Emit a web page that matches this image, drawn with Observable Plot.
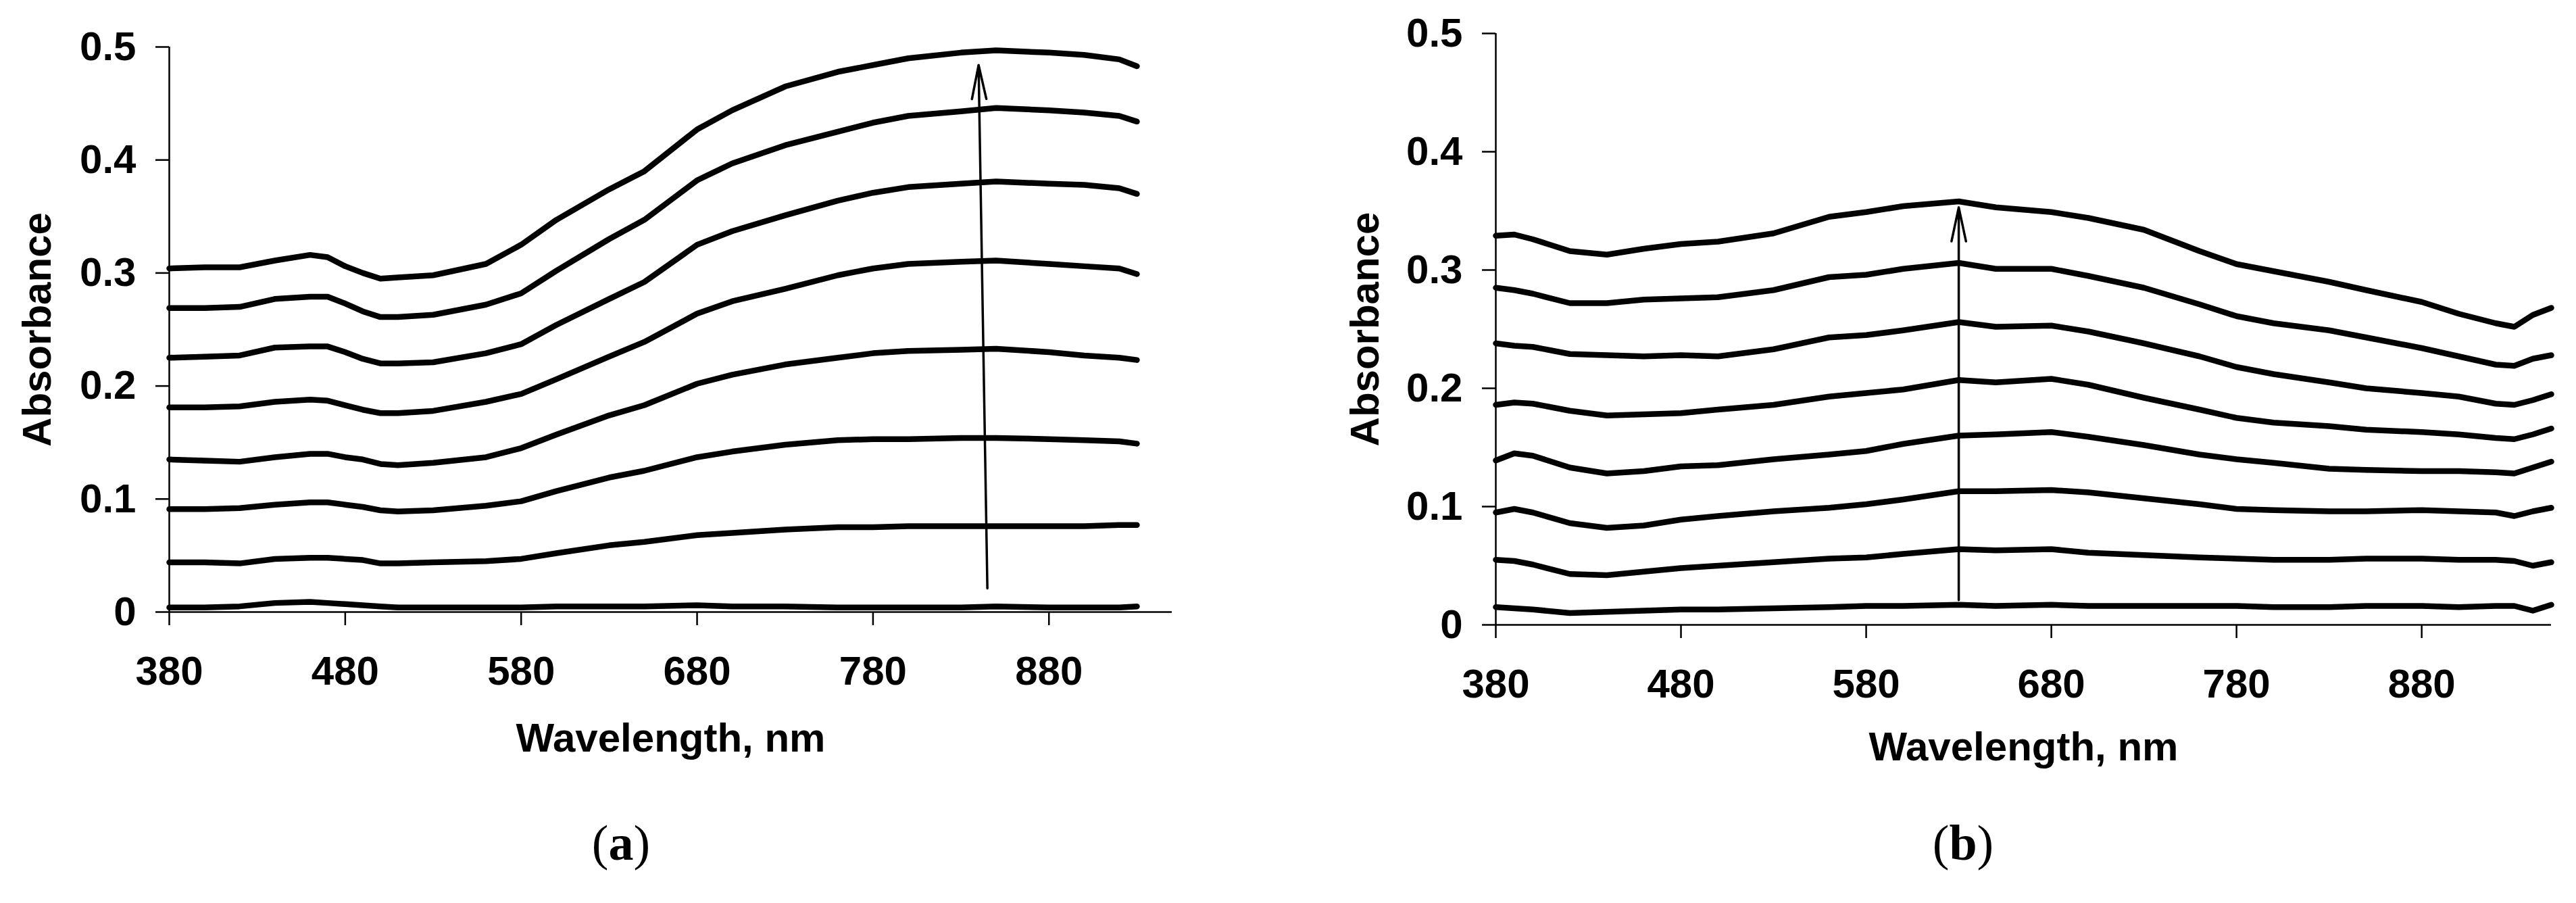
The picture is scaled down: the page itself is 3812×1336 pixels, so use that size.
<!DOCTYPE html>
<html><head><meta charset="utf-8">
<script src="https://cdn.jsdelivr.net/npm/d3@7"></script>
<script src="https://cdn.jsdelivr.net/npm/@observablehq/plot@0.6"></script>
<style>
html,body{margin:0;padding:0;background:#fff;}
#page{position:relative;width:3812px;height:1336px;overflow:hidden;background:#fff;}
.panel{position:absolute;top:0;}
.cap{position:absolute;font-family:"Liberation Serif","DejaVu Serif",serif;font-size:74px;transform:translate(-50%,-50%);line-height:1;color:#000;white-space:nowrap;}
</style></head>
<body><div id="page">
<div id="pa" class="panel" style="left:0"></div>
<div id="pb" class="panel" style="left:1900px"></div>
<div class="cap" style="left:919px;top:1247px">(<b>a</b>)</div>
<div class="cap" style="left:2905px;top:1247px">(<b>b</b>)</div>
</div>
<script>
// ---------- axis ticks ----------
const xTicks = [380, 480, 580, 680, 780, 880];
const yTicks = [0, 0.1, 0.2, 0.3, 0.4, 0.5];
const xDomain = [380, 950];
const yDomain = [0, 0.5];

// ---------- panel (a) ----------
const wavelengthsA = [380,400,420,440,460,470,480,490,500,510,530,560,580,600,630,650,680,700,730,760,780,800,830,850,880,900,920,930];
const specA1 = [.004,.004,.005,.008,.009,.008,.007,.006,.005,.004,.004,.004,.004,.005,.005,.005,.006,.005,.005,.004,.004,.004,.004,.005,.004,.004,.004,.005];
const specA2 = [.044,.044,.043,.047,.048,.048,.047,.046,.043,.043,.044,.045,.047,.052,.059,.062,.068,.070,.073,.075,.075,.076,.076,.076,.076,.076,.077,.077];
const specA3 = [.091,.091,.092,.095,.097,.097,.095,.093,.090,.089,.090,.094,.098,.107,.119,.125,.137,.142,.148,.152,.153,.153,.154,.154,.153,.152,.151,.149];
const specA4 = [.135,.134,.133,.137,.140,.140,.137,.135,.131,.130,.132,.137,.145,.157,.174,.183,.202,.210,.219,.225,.229,.231,.232,.233,.230,.227,.225,.223];
const specA5 = [.181,.181,.182,.186,.188,.187,.183,.179,.176,.176,.178,.186,.193,.206,.226,.239,.264,.275,.286,.298,.304,.308,.310,.311,.308,.306,.304,.299];
const specA6 = [.225,.226,.227,.234,.235,.235,.230,.224,.220,.220,.221,.229,.237,.254,.277,.292,.325,.337,.351,.364,.371,.376,.379,.381,.379,.378,.375,.370];
const specA7 = [.269,.269,.270,.277,.279,.279,.273,.266,.261,.261,.263,.272,.282,.302,.330,.347,.382,.397,.413,.425,.433,.439,.443,.446,.444,.442,.439,.434];
const specA8 = [.304,.305,.305,.311,.316,.314,.306,.300,.295,.296,.298,.308,.325,.347,.374,.390,.427,.444,.465,.478,.484,.490,.495,.497,.495,.493,.489,.483];
const arrowA = [{x1: 845, y1: 0.021, x2: 840, y2: 0.484}];

// ---------- panel (b) ----------
const wavelengthsB = [380,390,400,420,440,460,480,500,530,560,580,600,630,650,680,700,730,760,780,800,830,850,880,900,920,930,940,950];
const specB1 = [.015,.014,.013,.010,.011,.012,.013,.013,.014,.015,.016,.016,.017,.016,.017,.016,.016,.016,.016,.015,.015,.016,.016,.015,.016,.016,.012,.017];
const specB2 = [.055,.054,.051,.043,.042,.045,.048,.050,.053,.056,.057,.060,.064,.063,.064,.061,.059,.057,.056,.055,.055,.056,.056,.055,.055,.054,.050,.053];
const specB3 = [.095,.098,.095,.086,.082,.084,.089,.092,.096,.099,.102,.106,.113,.113,.114,.112,.107,.102,.098,.097,.096,.096,.097,.096,.095,.092,.096,.099];
const specB4 = [.139,.145,.143,.133,.128,.130,.134,.135,.140,.144,.147,.153,.160,.161,.163,.159,.152,.144,.140,.137,.132,.131,.130,.130,.129,.128,.133,.138];
const specB5 = [.186,.188,.187,.181,.177,.178,.179,.182,.186,.193,.196,.199,.207,.205,.208,.203,.192,.182,.175,.171,.168,.165,.163,.161,.158,.157,.161,.166];
const specB6 = [.238,.236,.235,.229,.228,.227,.228,.227,.233,.243,.245,.249,.256,.252,.253,.248,.238,.227,.218,.212,.205,.200,.196,.193,.187,.186,.190,.195];
const specB7 = [.285,.283,.280,.272,.272,.275,.276,.277,.283,.294,.296,.301,.306,.301,.301,.295,.285,.271,.261,.255,.249,.243,.234,.227,.220,.219,.225,.228];
const specB8 = [.329,.330,.326,.316,.313,.318,.322,.324,.331,.345,.349,.354,.358,.353,.349,.344,.334,.316,.305,.299,.290,.283,.273,.263,.255,.252,.262,.268];
const arrowB = [{x1: 630, y1: 0.021, x2: 630, y2: 0.353}];

function build(wl, series, arrow, cfg) {
  const rows = series.flatMap((vals, i) => vals.map((v, j) => ({wl: wl[j], abs: v, curve: i})));
  const bold = {fontSize: 60, fontWeight: "bold"};
  return Plot.plot({
    width: cfg.width,
    height: cfg.height,
    marginLeft: cfg.ml, marginRight: cfg.mr, marginTop: cfg.mt, marginBottom: cfg.mb,
    x: {domain: xDomain},
    y: {domain: yDomain},
    style: {fontFamily: "'Liberation Sans', Arial, sans-serif", color: "black", background: "white", overflow: "visible"},
    marks: [
      Plot.ruleX([xDomain[0]], {stroke: "black", strokeWidth: 2.5}),
      Plot.ruleY([0], {stroke: "black", strokeWidth: 2.5}),
      Plot.axisY({ticks: yTicks, tickSize: 20, tickPadding: 29, tickFormat: d3.format(".1~f"), strokeWidth: 2.5, label: null, ...bold}),
      Plot.axisX({ticks: xTicks, tickSize: 20, tickPadding: 45, tickFormat: d3.format("d"), strokeWidth: 2.5, label: null, ...bold}),
      Plot.line(rows, {x: "wl", y: "abs", z: "curve", stroke: "black", strokeWidth: 8.5, strokeLinejoin: "round", strokeLinecap: "round"}),
      Plot.arrow(arrow, {x1: "x1", y1: "y1", x2: "x2", y2: "y2", stroke: "black", strokeWidth: 3.5, headLength: 22, headAngle: 24}),
      Plot.text(["Absorbance"], {frameAnchor: "left", textAnchor: "middle", lineAnchor: "middle", rotate: -90, dx: cfg.yLabelDx, ...bold}),
      Plot.text(["Wavelength, nm"], {frameAnchor: "bottom", textAnchor: "middle", lineAnchor: "top", dy: cfg.xLabelDy, ...bold})
    ]
  });
}

document.getElementById("pa").append(build(
  wavelengthsA,
  [specA1, specA2, specA3, specA4, specA5, specA6, specA7, specA8],
  arrowA,
  {width: 1800, height: 1200, ml: 250, mr: 66, mt: 69, mb: 295, yLabelDx: -195, xLabelDy: 164}
));
document.getElementById("pb").append(build(
  wavelengthsB,
  [specB1, specB2, specB3, specB4, specB5, specB6, specB7, specB8],
  arrowB,
  {width: 1912, height: 1200, ml: 313, mr: 37, mt: 49, mb: 276, yLabelDx: -193, xLabelDy: 158}
));
</script>
</body></html>
